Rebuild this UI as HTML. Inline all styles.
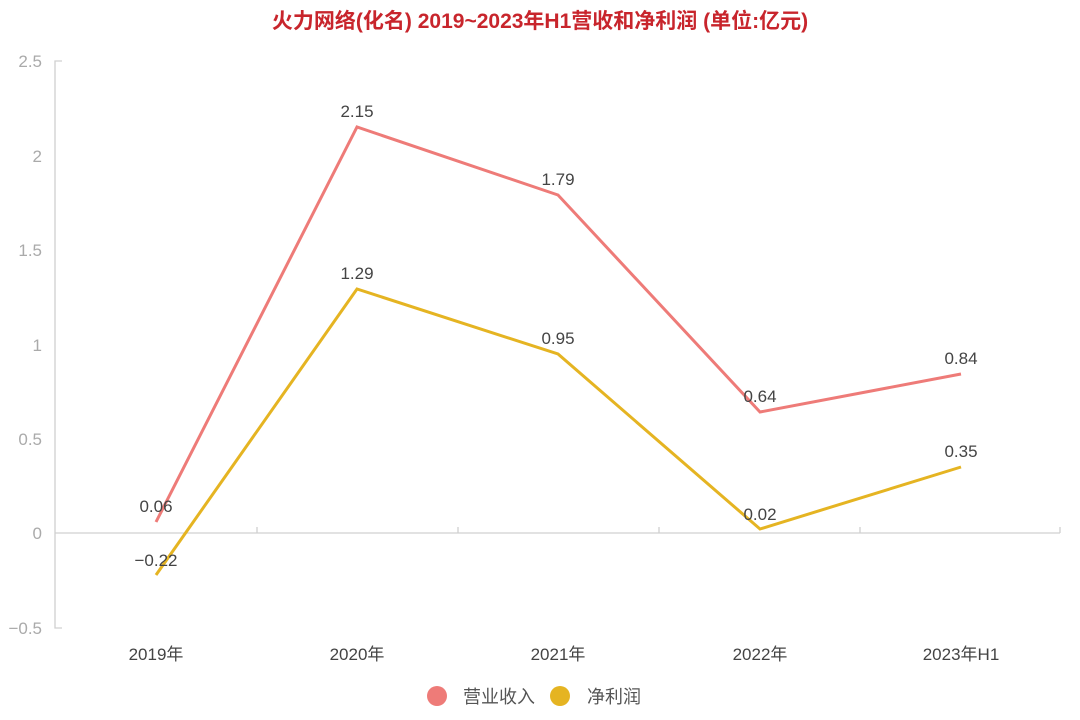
<!DOCTYPE html>
<html><head><meta charset="utf-8"><style>
body{margin:0;background:#fff;}
svg text{font-family:"Liberation Sans","Noto Sans CJK SC",sans-serif;}
</style></head><body>
<svg width="1080" height="715" xmlns="http://www.w3.org/2000/svg">
<text x="540" y="28" text-anchor="middle" font-size="21" font-weight="bold" fill="#c8252c">火力网络(化名) 2019~2023年H1营收和净利润 (单位:亿元)</text>
<g stroke="#d0d0d0" stroke-width="1.3" fill="none">
<path d="M62,61H55V628H62"/>
<path d="M55,533H1060"/>
<path d="M257,533V527M458,533V527M659,533V527M860,533V527M1060,533V527"/>
</g>
<g fill="#aaa" font-size="17" text-anchor="end">
<text x="42" y="67">2.5</text><text x="42" y="162">2</text><text x="42" y="256">1.5</text>
<text x="42" y="351">1</text><text x="42" y="445">0.5</text><text x="42" y="539">0</text><text x="42" y="634">−0.5</text>
</g>
<g fill="#444" font-size="17" text-anchor="middle">
<text x="156" y="660">2019年</text><text x="357" y="660">2020年</text><text x="558" y="660">2021年</text><text x="760" y="660">2022年</text><text x="961" y="660">2023年H1</text>
</g>
<polyline points="156,522 357,127 558,195 760,412 961,374" fill="none" stroke="#ee7b78" stroke-width="3"/>
<polyline points="156,575 357,289 558,354 760,529 961,467" fill="none" stroke="#e5b422" stroke-width="3"/>
<g fill="#444" font-size="17" text-anchor="middle">
<text x="156" y="512">0.06</text><text x="357" y="117">2.15</text><text x="558" y="185">1.79</text><text x="760" y="402">0.64</text><text x="961" y="364">0.84</text>
<text x="156" y="566">−0.22</text><text x="357" y="279">1.29</text><text x="558" y="344">0.95</text><text x="760" y="520">0.02</text><text x="961" y="457">0.35</text>
</g>
<circle cx="437" cy="696" r="10" fill="#ee7b78"/>
<text x="463" y="703" font-size="18" fill="#555">营业收入</text>
<circle cx="560" cy="696" r="10" fill="#e5b422"/>
<text x="587" y="703" font-size="18" fill="#555">净利润</text>
</svg>
</body></html>
